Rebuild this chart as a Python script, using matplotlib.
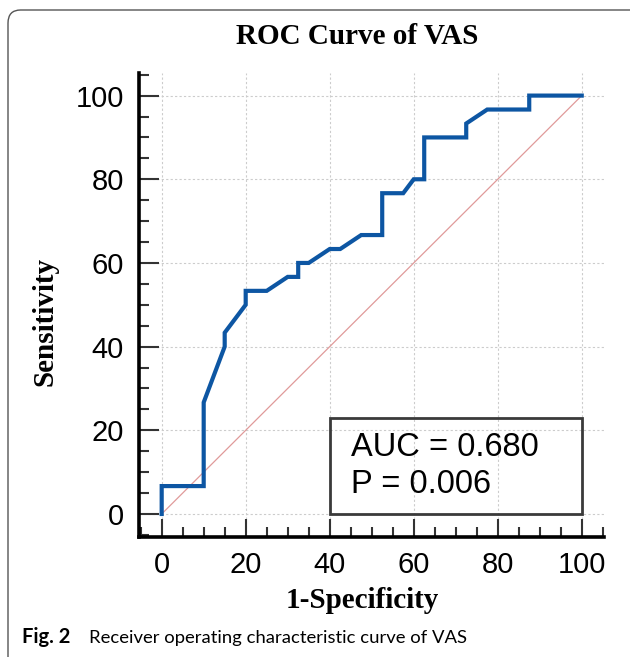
import matplotlib
matplotlib.use("Agg")
import matplotlib.pyplot as plt
from matplotlib.patches import Rectangle, FancyBboxPatch
from matplotlib.ticker import MultipleLocator

# ROC curve data (1-Specificity %, Sensitivity %)
fpr = [0, 0, 10, 10, 15, 15, 20, 20, 25, 30, 32.5, 32.5, 35, 40, 42.5, 47.5,
       52.5, 52.5, 57.5, 60, 62.5, 62.5, 72.5, 72.5, 77.5, 87.5, 87.5, 100]
tpr = [0, 6.67, 6.67, 26.67, 40, 43.33, 50, 53.33, 53.33, 56.67, 56.67, 60,
       60, 63.33, 63.33, 66.67, 66.67, 76.67, 76.67, 80, 80, 90, 90, 93.33,
       96.67, 96.67, 100, 100]
ref_line = [0, 100]
ticks = [0, 20, 40, 60, 80, 100]
title = "ROC Curve of VAS"
xlabel = "1-Specificity"
ylabel = "Sensitivity"
auc_text = "AUC = 0.680"
p_text = "P = 0.006"
caption_bold = "Fig. 2"
caption_rest = "Receiver operating characteristic curve of VAS"

W, H = 630, 657
fig = plt.figure(figsize=(W / 100, H / 100), dpi=100)
ax = fig.add_axes([139 / W, 1 - 537 / H, (604 - 139) / W, (537 - 73) / H])

ax.set_xlim(-5.4, 105.3)
ax.set_ylim(-5.5, 105.4)

# grid
ax.set_xticks(ticks)
ax.set_yticks(ticks)
ax.xaxis.set_minor_locator(MultipleLocator(5))
ax.yaxis.set_minor_locator(MultipleLocator(5))
ax.grid(True, which="major", color="#cccccc", linestyle=(0, (2, 2)), linewidth=0.8)
ax.set_axisbelow(True)

# reference diagonal
ax.plot(ref_line, ref_line, color="#e09a9a", linewidth=0.9, zorder=2)
# ROC curve
ax.plot(fpr, tpr, color="#0d56a3", linewidth=3.0, solid_joinstyle="miter", zorder=3)

# spines
for s in ["top", "right"]:
    ax.spines[s].set_visible(False)
for s in ["left", "bottom"]:
    ax.spines[s].set_linewidth(2.6)
    ax.spines[s].set_color("black")

ax.tick_params(axis="both", which="both", direction="in", colors="#333333",
               labelcolor="black", width=1.5)
ax.tick_params(axis="y", which="major", length=14.5, pad=11, labelsize=21)
ax.tick_params(axis="y", which="minor", length=7.2)
ax.tick_params(axis="x", which="major", length=13, pad=10, labelsize=21)
ax.tick_params(axis="x", which="minor", length=7.2)
for lab in ax.get_xticklabels() + ax.get_yticklabels():
    lab.set_fontfamily("Liberation Sans")

ax.set_xlabel(xlabel, fontsize=21, fontweight="bold", family="Liberation Serif")
ax.set_ylabel(ylabel, fontsize=21, fontweight="bold", family="Liberation Serif")
ax.xaxis.set_label_coords((362.5 - 139) / 465, (537 - 600) / 464)
ax.xaxis.label.set_va("center")
ax.yaxis.set_label_coords((45 - 139) / 465, (537 - 321) / 464)
ax.yaxis.label.set_va("center")

fig.text(357 / W, 1 - 37 / H, title, ha="center", va="center", fontsize=21,
         fontweight="bold", family="Liberation Serif")

# AUC box
ax.add_patch(Rectangle((40, 0), 60, 23, fill=False, edgecolor="#3a3a3a",
                       linewidth=2.0, zorder=4))
ax.text(45.1, 13.9, auc_text, fontsize=23.5, family="Liberation Sans",
        va="baseline", ha="left", zorder=5)
ax.text(45.1, 5.0, p_text, fontsize=23.5, family="Liberation Sans",
        va="baseline", ha="left", zorder=5)

# outer rounded frame
frame = FancyBboxPatch((8 / W, -0.05), 1.1, 1 - 10 / H + 0.05,
                       boxstyle="round,pad=0,rounding_size=0.02",
                       transform=fig.transFigure, fill=False,
                       edgecolor="#555555", linewidth=1.0)
fig.patches.append(frame)

# caption
fig.text(22 / W, 1 - 643 / H, caption_bold, fontsize=14.5, fontweight="bold",
         family="Lato", va="baseline", ha="left")
fig.text(89 / W, 1 - 643 / H, caption_rest, fontsize=13.3, family="Lato",
         va="baseline", ha="left")

fig.savefig("out.png", dpi=100)
